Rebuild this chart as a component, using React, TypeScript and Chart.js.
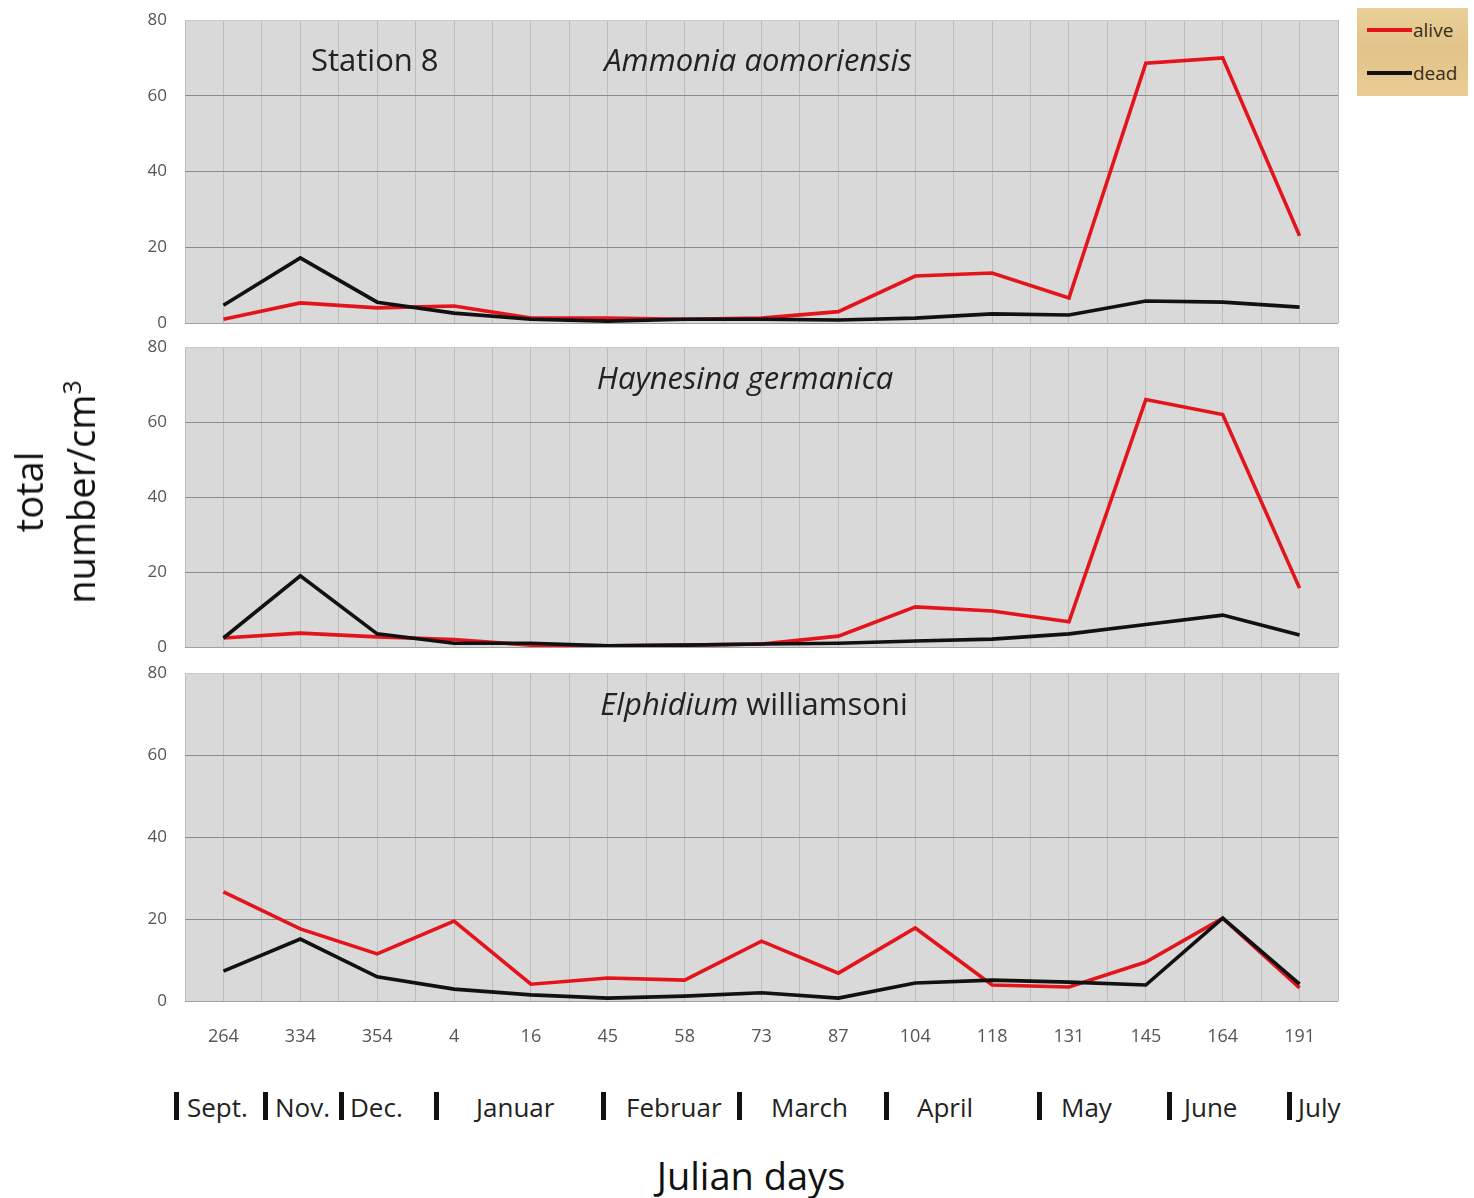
import React, { useEffect, useRef } from "react";
import { Chart, registerables } from "chart.js";

Chart.register(...registerables);

// ---------- data ----------
const julianDays = ["264", "334", "354", "4", "16", "45", "58", "73", "87", "104", "118", "131", "145", "164", "191"];

const ammoniaAlive = [1, 5.3, 4, 4.5, 1.3, 1.3, 1, 1.3, 3, 12.4, 13.2, 6.6, 68.6, 70, 23];
const ammoniaDead = [4.7, 17.2, 5.5, 2.6, 1, 0.5, 1, 1, 0.8, 1.3, 2.4, 2.1, 5.8, 5.5, 4.2];

const haynesinaAlive = [2.4, 3.7, 2.7, 2, 0.5, 0.3, 0.5, 0.8, 2.9, 10.7, 9.6, 6.7, 66, 62, 15.7];
const haynesinaDead = [2.4, 19, 3.5, 1, 1, 0.3, 0.5, 0.8, 1, 1.6, 2.1, 3.5, 6, 8.5, 3.2];

const elphidiumAlive = [26.6, 17.6, 11.5, 19.5, 4.1, 5.6, 5.1, 14.6, 6.8, 17.8, 3.9, 3.4, 9.5, 20.2, 3.2];
const elphidiumDead = [7.3, 15.1, 5.9, 2.9, 1.5, 0.7, 1.2, 2, 0.7, 4.4, 5.1, 4.6, 3.9, 20.2, 4.1];

const yTickValues = [0, 20, 40, 60, 80];

const monthNames = ["Sept.", "Nov.", "Dec.", "Januar", "Februar", "March", "April", "May", "June", "July"];

const seriesNames = ["alive", "dead"];

// ---------- layout constants ----------
const FONT = "'Open Sans', 'Noto Sans', sans-serif";
const RED = "#e3141c";
const BLACK = "#111111";
const monthBarX = [174, 263, 339, 434, 601, 737, 884, 1037, 1167, 1287];
const monthTextX = [187, 275, 350, 476, 626, 771, 917, 1061, 1184, 1298];

type Part = { text: string; italic?: boolean };
type TitleItem = { parts: Part[]; x: number; y: number; align: "left" | "center" };

const titlePlugin = {
  id: "panelTitles",
  beforeDatasetsDraw(chart: any, _args: any, opts: any) {
    const ctx = chart.ctx as CanvasRenderingContext2D;
    const items: TitleItem[] = opts.items || [];
    ctx.save();
    ctx.fillStyle = "#222";
    ctx.textBaseline = "middle";
    ctx.textAlign = "left";
    for (const it of items) {
      const fontOf = (p: Part) => `${p.italic ? "italic " : ""}31px ${FONT}`;
      let total = 0;
      const widths = it.parts.map((p) => {
        ctx.font = fontOf(p);
        const w = ctx.measureText(p.text).width;
        total += w;
        return w;
      });
      let x = it.align === "center" ? it.x - total / 2 : it.x;
      it.parts.forEach((p, i) => {
        ctx.font = fontOf(p);
        ctx.fillText(p.text, x, it.y);
        x += widths[i];
      });
    }
    ctx.restore();
  },
};

const bgPlugin = {
  id: "plotBg",
  beforeDraw(chart: any) {
    const { ctx, chartArea } = chart;
    ctx.save();
    ctx.fillStyle = "#d9d9d9";
    ctx.fillRect(chartArea.left, chartArea.top, chartArea.right - chartArea.left, chartArea.bottom - chartArea.top);
    ctx.restore();
  },
};

type PanelProps = {
  alive: number[];
  dead: number[];
  titles: TitleItem[];
  top: number;
  height: number;
  padTop: number;
  padBottom: number;
  showX: boolean;
};

function Panel({ alive, dead, titles, top, height, padTop, padBottom, showX }: PanelProps) {
  const ref = useRef<HTMLCanvasElement>(null);
  useEffect(() => {
    const chart = new Chart(ref.current as HTMLCanvasElement, {
      type: "line",
      data: {
        datasets: [
          {
            label: seriesNames[1],
            data: dead.map((v, i) => ({ x: i, y: v })),
            borderColor: BLACK,
            borderWidth: 3.6,
            pointRadius: 0,
            tension: 0,
          },
          {
            label: seriesNames[0],
            data: alive.map((v, i) => ({ x: i, y: v })),
            borderColor: RED,
            borderWidth: 3.6,
            pointRadius: 0,
            tension: 0,
          },
        ],
      },
      options: {
        responsive: false,
        animation: false,
        events: [],
        layout: { padding: { left: 130, right: 136, top: padTop, bottom: padBottom } },
        plugins: {
          legend: { display: false },
          tooltip: { enabled: false },
          panelTitles: { items: titles },
        } as any,
        scales: {
          x: {
            type: "linear",
            min: -0.5,
            max: 14.5,
            afterBuildTicks: (scale: any) => {
              scale.ticks = Array.from({ length: julianDays.length * 2 + 1 }, (_, k) => ({ value: -0.5 + k * 0.5 }));
            },
            afterFit: (scale: any) => {
              scale.height = showX ? 59 : 0;
              scale.paddingLeft = 0;
              scale.paddingRight = 0;
            },
            ticks: {
              display: showX,
              autoSkip: false,
              maxRotation: 0,
              padding: 25,
              color: "#555",
              font: { family: FONT, size: 18 },
              callback: (value: any) => {
                const i = Number(value);
                return Number.isInteger(i) ? julianDays[i] : "";
              },
            },
            grid: { color: "#bcbcbc", lineWidth: 1, drawTicks: false },
            border: { display: false },
          },
          y: {
            min: 0,
            max: 80,
            afterBuildTicks: (scale: any) => {
              scale.ticks = yTickValues.map((v) => ({ value: v }));
            },
            afterFit: (scale: any) => {
              scale.width = 55;
              scale.paddingTop = 0;
              scale.paddingBottom = 0;
            },
            ticks: {
              padding: 18,
              color: "#555",
              font: { family: FONT, size: 17 },
            },
            grid: {
              drawTicks: false,
              lineWidth: 1,
              color: (ctx: any) => {
                const v = ctx.tick ? ctx.tick.value : 0;
                if (v === 80) return "#c9c9c9";
                if (v === 0) return "#a0a0a0";
                return "#8c8c8c";
              },
            },
            border: { display: false },
          },
        },
      },
      plugins: [bgPlugin, titlePlugin],
    } as any);
    return () => chart.destroy();
  }, []);
  return (
    <canvas
      ref={ref}
      width={1474}
      height={height}
      style={{ position: "absolute", left: 0, top, width: 1474, height }}
    />
  );
}

export default function App() {
  return (
    <div
      style={{
        position: "absolute",
        left: 0,
        top: 0,
        width: 1474,
        height: 1198,
        background: "#ffffff",
        fontFamily: FONT,
        overflow: "hidden",
      }}
    >
      <Panel
        alive={ammoniaAlive}
        dead={ammoniaDead}
        top={0}
        height={340}
        padTop={20}
        padBottom={17}
        showX={false}
        titles={[
          { parts: [{ text: "Station 8" }], x: 311, y: 62, align: "left" },
          { parts: [{ text: "Ammonia aomoriensis", italic: true }], x: 758, y: 62, align: "center" },
        ]}
      />
      <Panel
        alive={haynesinaAlive}
        dead={haynesinaDead}
        top={330}
        height={335}
        padTop={17}
        padBottom={18}
        showX={false}
        titles={[{ parts: [{ text: "Haynesina germanica", italic: true }], x: 745, y: 50, align: "center" }]}
      />
      <Panel
        alive={elphidiumAlive}
        dead={elphidiumDead}
        top={650}
        height={410}
        padTop={23}
        padBottom={0}
        showX={true}
        titles={[
          {
            parts: [{ text: "Elphidium", italic: true }, { text: " williamsoni" }],
            x: 754,
            y: 56,
            align: "center",
          },
        ]}
      />

      {/* y-axis title */}
      <div
        style={{
          position: "absolute",
          left: 54,
          top: 492,
          transform: "translate(-50%, -50%) rotate(-90deg)",
          whiteSpace: "nowrap",
          textAlign: "center",
          fontSize: 38,
          lineHeight: "52px",
          color: "#111",
        }}
      >
        <div>total</div>
        <div>
          number/cm<sup style={{ fontSize: "0.65em", lineHeight: 0 }}>3</sup>
        </div>
      </div>

      {/* month labels */}
      {monthNames.map((m, i) => (
        <React.Fragment key={m}>
          <div
            style={{
              position: "absolute",
              left: monthBarX[i],
              top: 1092,
              width: 5,
              height: 28,
              background: "#111",
            }}
          />
          <div
            style={{
              position: "absolute",
              left: monthTextX[i],
              top: 1090,
              fontSize: 26,
              lineHeight: "34px",
              color: "#222",
              whiteSpace: "nowrap",
            }}
          >
            {m}
          </div>
        </React.Fragment>
      ))}

      {/* x-axis title */}
      <div
        style={{
          position: "absolute",
          left: 751,
          top: 1175,
          transform: "translate(-50%, -50%)",
          fontSize: 38,
          color: "#111",
          whiteSpace: "nowrap",
        }}
      >
        Julian days
      </div>

      {/* legend */}
      <div
        style={{
          position: "absolute",
          left: 1357,
          top: 8,
          width: 111,
          height: 88,
          background: "linear-gradient(180deg, #e9cf98 0%, #e2c48a 45%, #e8cc93 100%)",
        }}
      >
        {[RED, BLACK].map((c, i) => (
          <React.Fragment key={c}>
            <div
              style={{
                position: "absolute",
                left: 10,
                top: i === 0 ? 20 : 63,
                width: 45,
                height: 4,
                background: c,
              }}
            />
            <div
              style={{
                position: "absolute",
                left: 56,
                top: i === 0 ? 8 : 51,
                fontSize: 19,
                lineHeight: "28px",
                color: "#3b2b17",
              }}
            >
              {seriesNames[i]}
            </div>
          </React.Fragment>
        ))}
      </div>
    </div>
  );
}
